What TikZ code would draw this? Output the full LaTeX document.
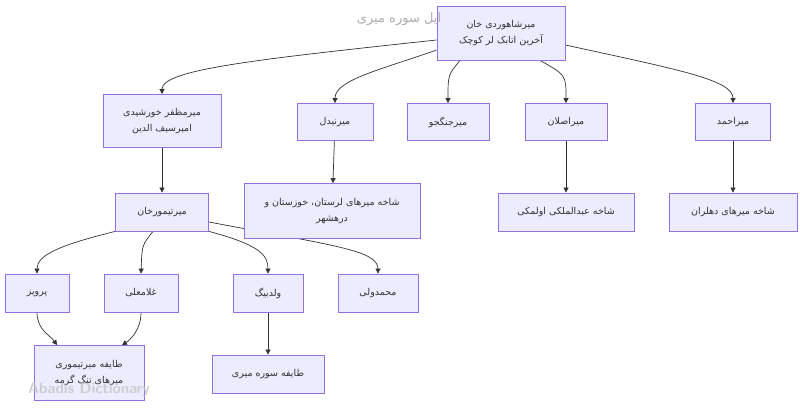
\documentclass[tikz,border=0pt]{standalone}
\usepackage{fontspec}
\newfontfamily\arabicfont[Script=Arabic]{DejaVu Sans}
\TeXXeTstate=1
\usetikzlibrary{arrows.meta,backgrounds}
\definecolor{nodefill}{HTML}{ECECFF}
\definecolor{nodeline}{HTML}{9370DB}
\definecolor{edgecol}{HTML}{333333}
\newcommand{\ar}[1]{\arabicfont\beginR #1\endR}
\tikzset{
  box/.style={draw=nodeline,fill=nodefill,line width=0.8pt,font=\fontsize{9.5}{16}\selectfont,align=center,inner sep=0pt,text=black!80},
  edge/.style={draw=edgecol,line width=0.7pt,-{Triangle[length=5pt,width=5pt]}}
}
\begin{document}
\begin{tikzpicture}[x=1pt,y=-1pt]
\useasboundingbox (0,0) rectangle (800,407);
\node[box,minimum width=128,minimum height=54] (top) at (501,33) {\ar{میرشاهوردی خان}\\\ar{آخرین اتابک لر کوچک}};
\node[font=\fontsize{13}{15}\selectfont,text=gray!65] (title) at (399,19) {\ar{ایل سوره میری}};
\node[box,minimum width=118,minimum height=53] (mozaf) at (162,121) {\ar{میرمظفر خورشیدی}\\\ar{امیرسیف الدین}};
\node[box,minimum width=76,minimum height=37] (nidel) at (335,122) {\ar{میرنیدل}};
\node[box,minimum width=82,minimum height=37] (jang) at (448,122) {\ar{میرجنگجو}};
\node[box,minimum width=82,minimum height=37] (aslan) at (566,122) {\ar{میراصلان}};
\node[box,minimum width=75,minimum height=37] (ahmad) at (733,122) {\ar{میراحمد}};
\node[box,minimum width=93,minimum height=38] (teymur) at (162,212) {\ar{میرتیمورخان}};
\node[box,minimum width=176,minimum height=55] (lor) at (332,211) {\ar{شاخه میرهای لرستان، خوزستان و}\\\ar{درهشهر}};
\node[box,minimum width=136,minimum height=38] (abd) at (566,212) {\ar{شاخه عبدالملکی اولمکی}};
\node[box,minimum width=128,minimum height=38] (dehl) at (733,212) {\ar{شاخه میرهای دهلران}};
\node[box,minimum width=64,minimum height=38] (parviz) at (37,293) {\ar{پرویز}};
\node[box,minimum width=74,minimum height=38] (gholam) at (141,293) {\ar{غلامعلی}};
\node[box,minimum width=70,minimum height=38] (valad) at (268,293) {\ar{ولدبیگ}};
\node[box,minimum width=80,minimum height=38] (mvali) at (378,293) {\ar{محمدولی}};
\node[box,minimum width=110,minimum height=55] (taif1) at (89,373) {\ar{طایفه میرتیموری}\\\ar{میرهای تنگ گرمه}};
\node[box,minimum width=112,minimum height=38] (taif2) at (268,374) {\ar{طایفه سوره میری}};
\node[font=\fontsize{15}{17}\selectfont\sffamily\bfseries,text=gray!45,opacity=0.8] (wm) at (89,390) {Abadis Dictionary};
\begin{scope}[on background layer]
\draw[edge] (top.west|-0,40) .. controls (250,60) and (162,70) .. (mozaf.north);
\draw[edge] (top.west|-0,50) .. controls (380,70) and (335,80) .. (nidel.north);
\draw[edge] (top.south-|460,0) .. controls (448,75) .. (jang.north);
\draw[edge] (top.south-|540,0) .. controls (566,75) .. (aslan.north);
\draw[edge] (top.east|-0,45) .. controls (680,70) and (733,80) .. (ahmad.north);
\draw[edge] (mozaf) -- (teymur);
\draw[edge] (nidel) -- (lor);
\draw[edge] (aslan) -- (abd);
\draw[edge] (ahmad) -- (dehl);
\draw[edge] (teymur.south west) .. controls (60,245) and (37,255) .. (parviz.north);
\draw[edge] (teymur.south-|153,0) .. controls (142,245) .. (gholam.north);
\draw[edge] (teymur.south east) .. controls (260,245) and (268,255) .. (valad.north);
\draw[edge] (teymur.east|-0,222) .. controls (330,245) and (378,250) .. (mvali.north);
\draw[edge] (parviz.south) .. controls (37,330) and (50,335) .. (taif1.north-|57,0);
\draw[edge] (gholam.south) .. controls (141,330) and (130,340) .. (taif1.north-|122,0);
\draw[edge] (valad) -- (taif2);
\end{scope}
\end{tikzpicture}
\end{document}
